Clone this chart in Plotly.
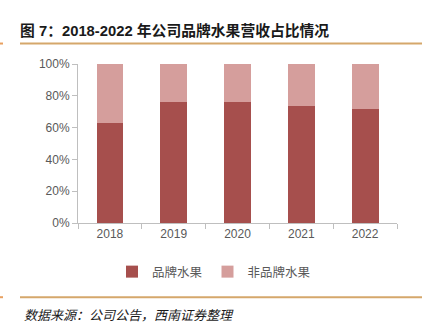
import plotly.graph_objects as go

years = ["2018", "2019", "2020", "2021", "2022"]
brand = [62.8, 76.4, 76.4, 73.3, 71.6]
non_brand = [round(100 - v, 1) for v in brand]
y_ticks = [0, 20, 40, 60, 80, 100]
y_tick_labels = ["0%", "20%", "40%", "60%", "80%", "100%"]

W, H = 428, 326
L, R, T, B = 78, 397, 63.5, 222.7

def px_x(p):
    return (p - L) / (R - L)

def px_y(p):
    return (B - p) / (B - T)

fig = go.Figure()
fig.add_trace(go.Bar(x=years, y=brand, name="品牌水果", marker_color="#A64F4D",
                     marker_line_width=0, width=0.42))
fig.add_trace(go.Bar(x=years, y=non_brand, name="非品牌水果", marker_color="#D59E9C",
                     marker_line_width=0, width=0.42))

fig.update_layout(
    barmode="stack",
    width=W, height=H,
    margin=dict(l=L, r=W - R, t=T, b=H - B, pad=0),
    paper_bgcolor="white", plot_bgcolor="white",
    font=dict(family="Noto Sans CJK SC, Liberation Sans, sans-serif", color="#595959"),
    title=dict(text="<b>图 7：2018-2022 年公司品牌水果营收占比情况</b>",
               xref="container", yref="container", x=20 / W, y=1 - 31 / H,
               xanchor="left", yanchor="middle",
               font=dict(size=14.8, color="#1a1a1a",
                         family="Liberation Sans, Noto Sans CJK SC, sans-serif")),
    legend=dict(orientation="h", xref="container", yref="container",
                x=214 / W, y=1 - 272 / H, xanchor="center", yanchor="middle",
                font=dict(size=12.5, color="#595959"), itemwidth=30,
                traceorder="normal", itemclick=False),
    bargap=0.58,
    showlegend=True,
)
fig.update_xaxes(type="category", showline=True, linecolor="#BFBFBF", linewidth=1,
                 ticks="outside", tickson="boundaries", ticklen=5, tickcolor="#BFBFBF",
                 tickfont=dict(size=12, color="#595959",
                               family="Liberation Sans, Noto Sans, sans-serif"),
                 showgrid=False)
fig.update_yaxes(range=[0, 100], tickvals=y_ticks, ticktext=y_tick_labels,
                 showline=True, linecolor="#BFBFBF", linewidth=1,
                 ticks="outside", ticklen=5, tickcolor="#BFBFBF",
                 tickfont=dict(size=12, color="#595959",
                               family="Liberation Sans, Noto Sans, sans-serif"),
                 showgrid=False, zeroline=False)

gold = "#D5A76B"
fig.add_shape(type="line", xref="paper", yref="paper",
              x0=px_x(20), x1=px_x(422), y0=px_y(43), y1=px_y(43),
              line=dict(color=gold, width=2))
fig.add_shape(type="line", xref="paper", yref="paper",
              x0=px_x(0), x1=px_x(3), y0=px_y(43), y1=px_y(43),
              line=dict(color="#E8A060", width=2))
fig.add_shape(type="line", xref="paper", yref="paper",
              x0=px_x(20), x1=px_x(422), y0=px_y(297), y1=px_y(297),
              line=dict(color=gold, width=2))
fig.add_shape(type="line", xref="paper", yref="paper",
              x0=px_x(0), x1=px_x(3), y0=px_y(297), y1=px_y(297),
              line=dict(color="#E8A060", width=2))

fig.add_annotation(text="<i>数据来源：公司公告，西南证券整理</i>", xref="paper", yref="paper",
                   x=px_x(22), y=px_y(314), xanchor="left", yanchor="middle",
                   showarrow=False, font=dict(size=13, color="#1a1a1a",
                                              family="Noto Sans CJK SC, sans-serif"))

fig.write_html("out.html")
